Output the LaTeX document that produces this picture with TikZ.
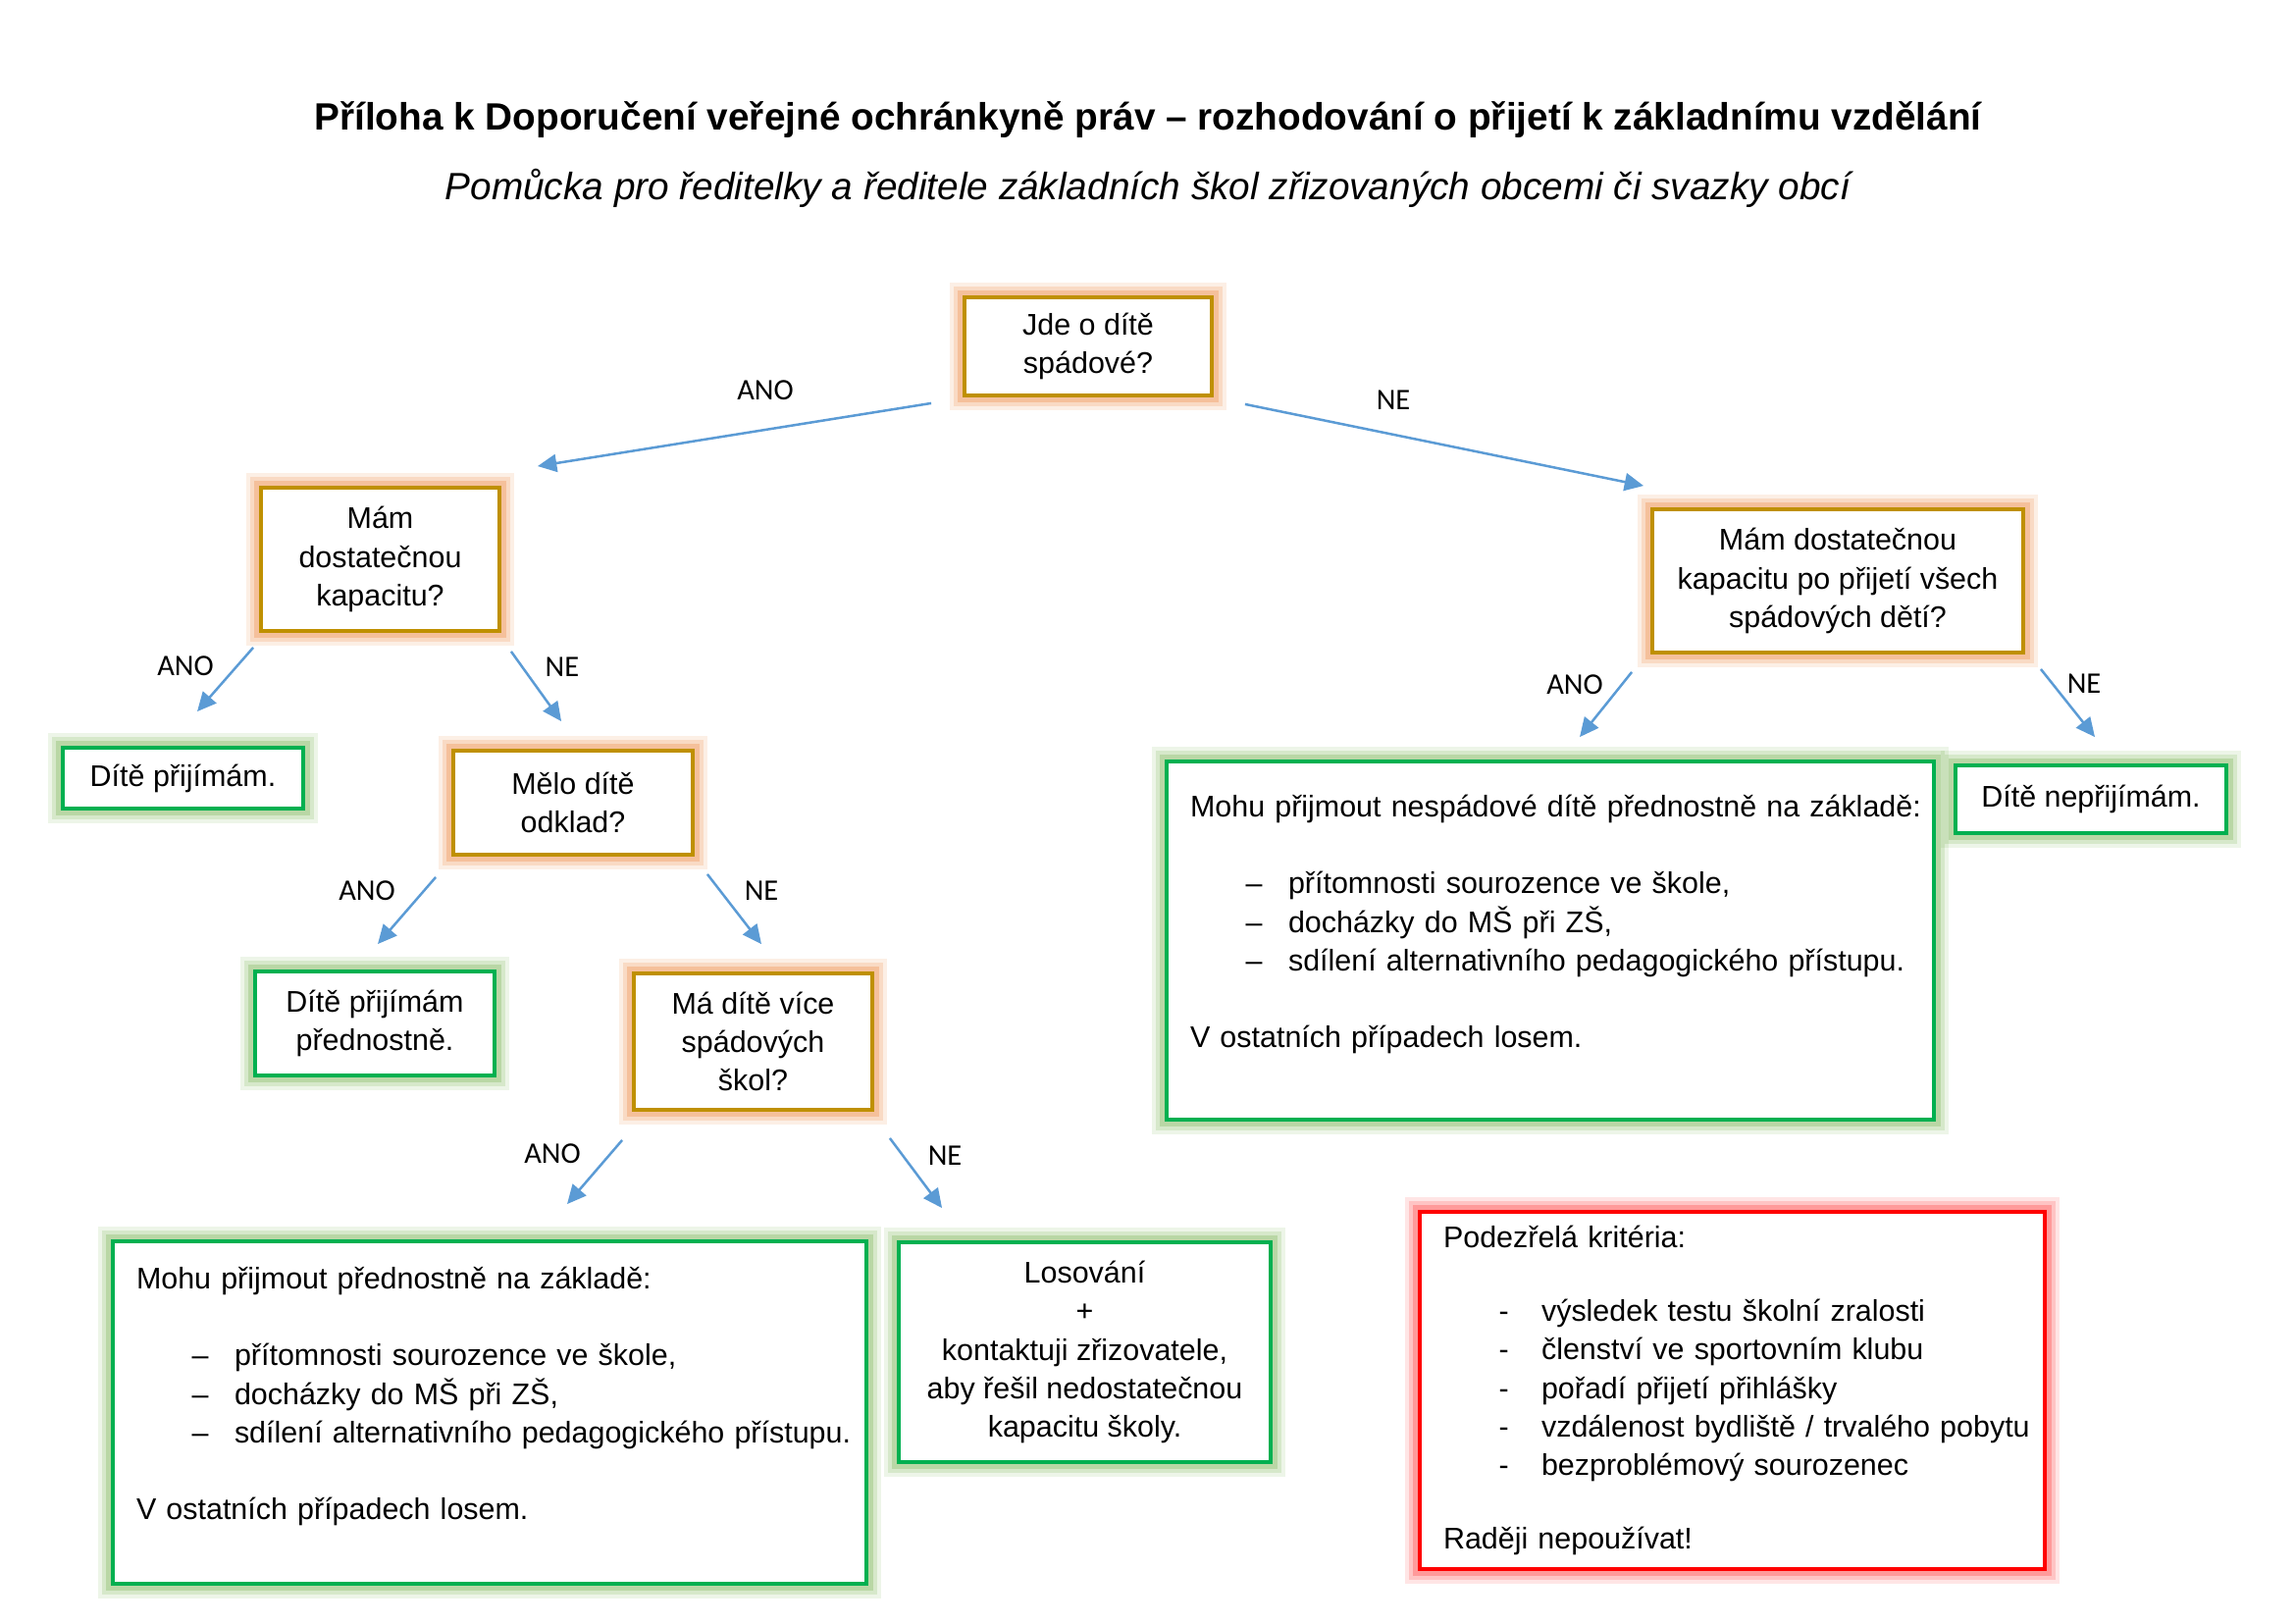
\documentclass[tikz,border=0pt]{standalone}
\usepackage{fontspec}
\setmainfont{Liberation Sans}
\newfontfamily\carlito{Carlito}
\usepackage{tikz}
\usetikzlibrary{arrows.meta,calc,positioning}
\definecolor{zlata}{HTML}{BF9000}
\definecolor{oranz}{HTML}{ED7D31}
\definecolor{zelena}{HTML}{00B050}
\definecolor{svzelena}{HTML}{70AD47}
\definecolor{cervena}{HTML}{FF0000}
\definecolor{ruzova}{HTML}{FF3030}
\definecolor{modra}{HTML}{5B9BD5}
\newcommand{\px}{0.012698cm}
\newcommand{\odr}[2]{\hspace*{0.72cm}\makebox[0.55cm][l]{#1}\mbox{#2}}

\begin{document}
\begin{tikzpicture}[x=0.012698cm,y=-0.012698cm,
  ram/.style={line width=1.4pt, fill=white, font=\fontsize{11}{14.2}\selectfont, align=center,
    preaction={draw=#1, line width=11pt, opacity=.12},
    preaction={draw=#1, line width=8pt, opacity=.18},
    preaction={draw=#1, line width=5pt, opacity=.28}},
  otazka/.style={ram=oranz, draw=zlata},
  vysledek/.style={ram=svzelena, draw=zelena},
  varovani/.style={ram=ruzova, draw=cervena},
  seznam/.style={align=left, inner xsep=24*\px, inner ysep=1pt},
  sipka/.style={draw=modra, line width=0.9pt, -{Triangle[length=7pt,width=6.5pt]}},
  popis/.style={font=\carlito\fontsize{11}{13}\selectfont}]
\fill[white] (0,0) rectangle (2339,1654);
\useasboundingbox (0,0) rectangle (2339,1654);
\node[font=\bfseries\fontsize{14}{16}\selectfont] (nadpis) at (1170,122) {Příloha k Doporučení veřejné ochránkyně práv – rozhodování o přijetí k základnímu vzdělání};
\node[font=\itshape\fontsize{14}{16}\selectfont] (podnadpis) at (1170,192) {Pomůcka pro ředitelky a ředitele základních škol zřizovaných obcemi či svazky obcí};
\node[otazka, minimum width=252*\px, minimum height=100*\px] (jde) at (1109,353) {Jde o dítě\\spádové?};
\node[otazka, minimum width=243*\px, minimum height=146*\px] (mam) at (387.5,570) {Mám\\dostatečnou\\kapacitu?};
\node[vysledek, minimum width=245*\px, minimum height=62*\px] (prijimam) at (186.5,793) {Dítě přijímám.};
\node[otazka, minimum width=244*\px, minimum height=106*\px] (odklad) at (584,818) {Mělo dítě\\odklad?};
\node[vysledek, minimum width=244*\px, minimum height=106*\px] (prednostne) at (382,1043) {Dítě přijímám\\přednostně.};
\node[otazka, minimum width=243*\px, minimum height=139*\px] (vice) at (767.5,1061.5) {Má dítě více\\spádových\\škol?};
\node[vysledek, seznam, text width=720*\px, minimum height=349*\px] (mohuL) at (499,1439.5) {\mbox{Mohu přijmout přednostně na základě:}\\[14pt]
  \odr{–}{přítomnosti sourozence ve škole,}\\
  \odr{–}{docházky do MŠ při ZŠ,}\\
  \odr{–}{sdílení alternativního pedagogického přístupu.}\\[14pt]
  \mbox{V ostatních případech losem.}\\ \mbox{}};
\node[vysledek, minimum width=379*\px, minimum height=224*\px] (losovani) at (1105.5,1378) {Losování\\+\\kontaktuji zřizovatele,\\aby řešil nedostatečnou\\kapacitu školy.};
\node[otazka, minimum width=378*\px, minimum height=146*\px] (mamR) at (1873,592) {Mám dostatečnou\\kapacitu po přijetí všech\\spádových dětí?};
\node[vysledek, seznam, text width=734*\px, minimum height=365*\px] (mohuR) at (1580,958.5) {\mbox{Mohu přijmout nespádové dítě přednostně na základě:}\\[14pt]
  \odr{–}{přítomnosti sourozence ve škole,}\\
  \odr{–}{docházky do MŠ při ZŠ,}\\
  \odr{–}{sdílení alternativního pedagogického přístupu.}\\[14pt]
  \mbox{V ostatních případech losem.}\\ \mbox{}};
\node[vysledek, minimum width=276*\px, minimum height=69*\px] (neprijimam) at (2131,814.5) {Dítě nepřijímám.};
\node[varovani, seznam, text width=589*\px, minimum height=364*\px] (podezrele) at (1765.5,1417) {\mbox{Podezřelá kritéria:}\\[13pt]
  \odr{-}{výsledek testu školní zralosti}\\
  \odr{-}{členství ve sportovním klubu}\\
  \odr{-}{pořadí přijetí přihlášky}\\
  \odr{-}{vzdálenost bydliště / trvalého pobytu}\\
  \odr{-}{bezproblémový sourozenec}\\[13pt]
  \mbox{Raději nepoužívat!}};
\draw[sipka] ($(jde.south west)+(-32,6)$) -- ($(mam.north east)+(37,-20)$);
\draw[sipka] ($(jde.south east)+(32,7)$) -- ($(mamR.north west)+(-7,-22)$);
\draw[sipka] ($(mam.south west)+(-6,15)$) -- ($(prijimam.north)+(14.5,-35)$);
\draw[sipka] ($(mam.south east)+(10,19)$) -- ($(odklad.north west)+(112,-28)$);
\draw[sipka] ($(odklad.south west)+(-16,21)$) -- ($(prednostne.north)+(3,-26)$);
\draw[sipka] ($(odklad.south east)+(13,18)$) -- ($(vice.north)+(8.5,-28)$);
\draw[sipka] ($(vice.south west)+(-10,29)$) -- ($(mohuL.north)+(79,-36)$);
\draw[sipka] ($(vice.south east)+(16,27)$) -- ($(losovani.north west)+(46,-33)$);
\draw[sipka] ($(mamR.south west)+(-19,18)$) -- ($(mohuR.north)+(30,-23)$);
\draw[sipka] ($(mamR.south east)+(16,15)$) -- ($(neprijimam.north)+(4,-27)$);
\node[popis] (ano1) at (780,398) {ANO};
\node[popis] (ne1) at (1420,408) {NE};
\node[popis] (ano2) at (189,679) {ANO};
\node[popis] (ne2) at (573,680) {NE};
\node[popis] (ano3) at (374,908) {ANO};
\node[popis] (ne3) at (776,908) {NE};
\node[popis] (ano4) at (563,1176) {ANO};
\node[popis] (ne4) at (963,1178) {NE};
\node[popis] (ano5) at (1605,698) {ANO};
\node[popis] (ne5) at (2124,697) {NE};
\end{tikzpicture}
\end{document}
